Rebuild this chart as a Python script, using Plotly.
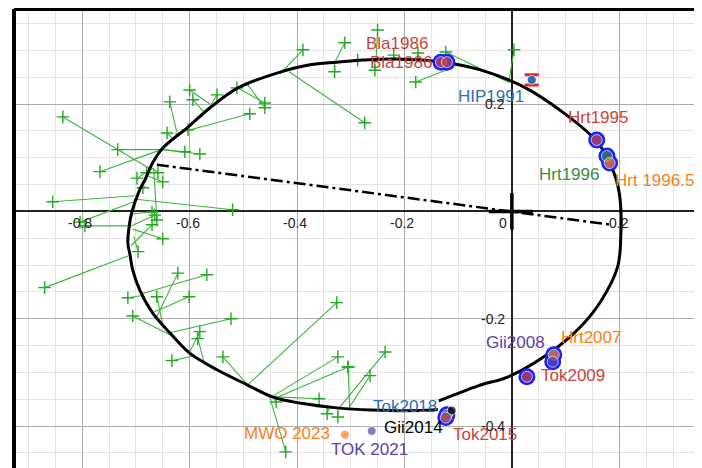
import plotly.graph_objects as go

# ---- apparent orbit ----
orbit_x = [-0.136, -0.063, -0.002, 0.086, 0.128, 0.166, 0.197, 0.203, 0.203, 0.199, 0.190, 0.160,
           0.097, 0.022, -0.060, -0.128, -0.214, -0.277, -0.326, -0.376, -0.436, -0.510, -0.562,
           -0.603, -0.650, -0.669, -0.683, -0.693, -0.708, -0.713, -0.715, -0.711, -0.706, -0.693,
           -0.669, -0.637, -0.600, -0.549, -0.493, -0.445, -0.395, -0.326, -0.261, -0.171, -0.138]
orbit_y = [-0.353, -0.325, -0.306, -0.252, -0.215, -0.167, -0.103, -0.042, 0.003, 0.040, 0.072, 0.128,
           0.183, 0.232, 0.264, 0.278, 0.284, 0.282, 0.278, 0.273, 0.258, 0.230, 0.193,
           0.157, 0.118, 0.090, 0.059, 0.040, -0.003, -0.031, -0.059, -0.081, -0.109, -0.146,
           -0.189, -0.226, -0.264, -0.295, -0.323, -0.346, -0.357, -0.366, -0.370, -0.371, -0.369]

# line of apsides
apsis_x = [-0.661, 0.186]
apsis_y = [0.087, -0.025]

# primary star cross
cross_h_x = [-0.043, 0.039]
cross_v_y = [0.034, -0.034]

# ---- visual observations (green +) and their computed orbit positions ----
obs_x = [-0.389, -0.274, -0.311, -0.330, -0.250, -0.255, -0.287, -0.123, -0.179, 0.004, -0.220, -0.175,
         -0.460, -0.460, -0.488, -0.549, -0.600, -0.594, -0.637, -0.642, -0.603, -0.512,
         -0.836, -0.734, -0.609, -0.581, -0.767, -0.698, -0.680, -0.659, -0.650, -0.687, -0.855,
         -0.520, -0.804, -0.795, -0.661, -0.670, -0.650, -0.696, -0.665, -0.670, -0.870,
         -0.622, -0.568, -0.715, -0.601, -0.661, -0.706, -0.523, -0.581, -0.585, -0.633, -0.538,
         -0.326, -0.324, -0.305, -0.305, -0.236, -0.264, -0.359, -0.421, -0.344, -0.324, -0.439]
obs_y = [0.301, 0.165, 0.314, 0.260, 0.338, 0.263, 0.282, 0.297, 0.241, 0.301, 0.291, 0.295,
         0.202, 0.193, 0.182, 0.217, 0.226, 0.208, 0.204, 0.146, 0.152, 0.230,
         0.176, 0.115, 0.111, 0.107, 0.074, 0.062, 0.072, 0.072, 0.055, 0.044, 0.018,
         0.003, -0.020, -0.027, -0.016, -0.001, -0.051, -0.075, -0.007, -0.025, -0.142,
         -0.115, -0.118, -0.161, -0.159, -0.159, -0.195, -0.200, -0.224, -0.237, -0.278, -0.271,
         -0.170, -0.271, -0.290, -0.290, -0.262, -0.306, -0.349, -0.448, -0.377, -0.383, -0.355]
fit_x = [-0.432, -0.415, -0.330, -0.330, -0.253, -0.255, -0.287, -0.007, -0.108, -0.006, -0.220, -0.171,
         -0.510, -0.492, -0.628, -0.562, -0.562, -0.573, -0.624, -0.633, -0.603, -0.512,
         -0.670, -0.652, -0.652, -0.650, -0.650, -0.674, -0.672, -0.670, -0.678, -0.683, -0.702,
         -0.704, -0.704, -0.711, -0.667, -0.709, -0.706, -0.704, -0.709, -0.709, -0.715,
         -0.661, -0.691, -0.691, -0.665, -0.650, -0.637, -0.637, -0.600, -0.572, -0.590, -0.492,
         -0.492, -0.447, -0.302, -0.439, -0.320, -0.302, -0.451, -0.451, -0.339, -0.324, -0.443]
fit_y = [0.256, 0.260, 0.277, 0.277, 0.282, 0.280, 0.280, 0.241, 0.269, 0.239, 0.284, 0.282,
         0.230, 0.236, 0.144, 0.196, 0.200, 0.185, 0.148, 0.137, 0.157, 0.228,
         0.077, 0.115, 0.115, 0.115, 0.116, 0.077, 0.081, 0.081, 0.066, 0.047, 0.029,
         0.023, 0.018, -0.027, 0.081, -0.005, -0.033, -0.046, -0.027, -0.064, -0.083,
         -0.196, -0.154, -0.157, -0.187, -0.211, -0.230, -0.226, -0.262, -0.284, -0.269, -0.323,
         -0.323, -0.345, -0.366, -0.347, -0.364, -0.364, -0.345, -0.345, -0.364, -0.366, -0.347]

# ---- speckle / astrometric measures ----
names = ["Bla1986", "Bla1986", "HIP1991", "Hrt1995", "Hrt1996", "Hrt 1996.5", "Hrt2007", "Gii2008",
         "Tok2009", "Tok2018", "Gii2014", "Tok2015", "TOK 2021", "MWO 2023"]
meas_x = [-0.132, -0.121, 0.037, 0.158, 0.177, 0.182, 0.078, 0.076, 0.028, -0.121, -0.112, -0.123, -0.261, -0.311]
meas_y = [0.278, 0.278, 0.245, 0.133, 0.103, 0.090, -0.267, -0.280, -0.308, -0.379, -0.371, -0.384, -0.409, -0.416]
ringed = [True, True, False, True, True, True, True, True, True, True, False, True, False, False]
hip_err = [0.0095]

tick_vals_x = [-0.8, -0.6, -0.4, -0.2, 0, 0.2]
tick_vals_y = [0.2, -0.2, -0.4]

RED, BLUE, GREEN, PURPLE, ORANGE, BLACK = "#c74440", "#2d70b3", "#388c46", "#6042a6", "#fa7e19", "#000000"
point_col = [RED, RED, BLUE, RED, GREEN, ORANGE, ORANGE, PURPLE, RED, BLUE, BLACK, RED, PURPLE, ORANGE]
label_col = point_col
# label offsets (px) relative to point: (xshift, yshift)
label_off = [(-44, 19), (-46, 0), (-41, -17), (1, 22), (-38, -18), (45, -17), (37, 17), (-37, 19),
             (46, 1), (-42, 8), (-38, -17), (39, -17), (-2, -19), (-58, 1)]

fig = go.Figure()

# residual lines
lx, ly = [], []
for ox, oy, fx, fy in zip(obs_x, obs_y, fit_x, fit_y):
    lx += [fx, ox, None]
    ly += [fy, oy, None]
GL = "#3cb43c"
fig.add_trace(go.Scatter(x=lx, y=ly, mode="lines", line=dict(color=GL, width=1.1), hoverinfo="skip"))
fig.add_trace(go.Scatter(x=obs_x, y=obs_y, mode="markers",
                         marker=dict(symbol="cross-thin", size=9, line=dict(color="#22a822", width=1.4)),
                         hoverinfo="skip"))

# orbit
fig.add_trace(go.Scatter(x=orbit_x, y=orbit_y, mode="lines",
                         line=dict(color="black", width=3, shape="spline", smoothing=1.0), hoverinfo="skip"))
# apsides
fig.add_trace(go.Scatter(x=apsis_x, y=apsis_y, mode="lines",
                         line=dict(color="black", width=2.5, dash="12px,4px,3px,4px"), hoverinfo="skip"))
# primary cross
fig.add_trace(go.Scatter(x=cross_h_x, y=[0, 0], mode="lines", line=dict(color="black", width=3.5), hoverinfo="skip"))
fig.add_trace(go.Scatter(x=[0, 0], y=cross_v_y, mode="lines", line=dict(color="black", width=3.5), hoverinfo="skip"))

# blue rings
rx = [x for x, r in zip(meas_x, ringed) if r]
ry = [y for y, r in zip(meas_y, ringed) if r]
fig.add_trace(go.Scatter(x=rx, y=ry, mode="markers", marker=dict(size=17, color="#1a22f5"), hoverinfo="skip"))

# HIP error bar
hi = names.index("HIP1991")
fig.add_trace(go.Scatter(x=[meas_x[hi]], y=[meas_y[hi]], mode="markers",
                         marker=dict(size=9, color=BLUE),
                         error_y=dict(type="data", array=hip_err, color="#e8231f", thickness=3, width=7),
                         hoverinfo="skip"))

# measure points
sizes = [11 if r else 9 for r in ringed]
fig.add_trace(go.Scatter(x=meas_x, y=meas_y, mode="markers",
                         marker=dict(size=sizes, color=point_col), hoverinfo="skip"))

FONT = "Liberation Sans, Arial, sans-serif"
ann = []
for n, x, y, c, (dx, dy) in zip(names, meas_x, meas_y, label_col, label_off):
    ann.append(dict(x=x, y=y, xref="x", yref="y", text=n, showarrow=False, xshift=dx, yshift=dy,
                    xanchor="center", yanchor="middle", font=dict(family=FONT, size=17, color=c)))
for v in tick_vals_x:
    txt = "0" if v == 0 else f"{v:g}"
    sh = -8.5 if v == 0 else (-2 if v < 0 else 0)
    ann.append(dict(x=v, y=0, xref="x", yref="y", text=txt, showarrow=False, xshift=sh, yshift=-11.5,
                    xanchor="center", yanchor="middle", font=dict(family=FONT, size=14, color="#222")))
for v in tick_vals_y:
    ann.append(dict(x=0, y=v, xref="x", yref="y", text=f"{v:g}", showarrow=False, xshift=-5,
                    xanchor="right", yanchor="middle", font=dict(family=FONT, size=14, color="#222")))

axis_common = dict(showgrid=True, gridcolor="#ababab", gridwidth=1, dtick=0.2, tick0=0,
                   showticklabels=False, ticks="", zeroline=True, zerolinecolor="#222",
                   zerolinewidth=1.6, showline=False,
                   minor=dict(dtick=0.05, showgrid=True, gridcolor="#e4e4e4", gridwidth=1))

# page body has an 8px default margin, so the figure is sized/offset to compensate
fig.update_layout(
    width=694, height=460,
    margin=dict(l=6, r=0, t=1, b=0),
    paper_bgcolor="white", plot_bgcolor="white",
    showlegend=False,
    xaxis=dict(range=[-0.927, 0.354], **axis_common),
    yaxis=dict(range=[-0.478, 0.377], **axis_common),
    annotations=ann,
    shapes=[
        dict(type="line", xref="paper", yref="paper", x0=0, x1=0, y0=0, y1=1, line=dict(color="black", width=4)),
        dict(type="line", xref="paper", yref="paper", x0=0, x1=1, y0=1, y1=1, line=dict(color="black", width=4)),
    ],
)

fig.write_html("out.html")
